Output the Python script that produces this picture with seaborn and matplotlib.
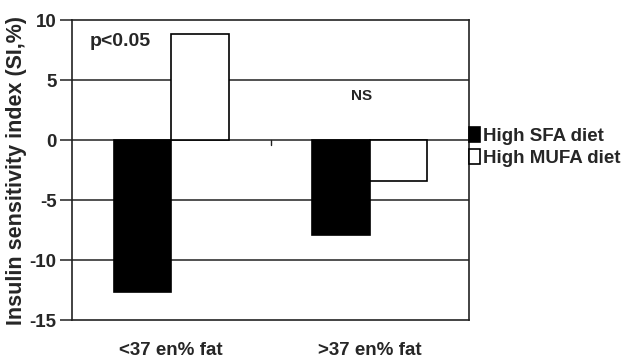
import matplotlib
matplotlib.use("Agg")
import matplotlib.pyplot as plt
import seaborn as sns
import pandas as pd

categories = ["<37 en% fat", ">37 en% fat"]
diets = ["High SFA diet", "High MUFA diet"]
sfa_values = [-12.7, -7.9]
mufa_values = [8.8, -3.4]
y_ticks = [10, 5, 0, -5, -10, -15]
annotations = ["p<0.05", "NS"]

df = pd.DataFrame({
    "group": categories * 2,
    "diet": [diets[0]] * 2 + [diets[1]] * 2,
    "value": sfa_values + mufa_values,
})

sns.set_theme(style="white")
plt.rcParams["font.family"] = ["Liberation Sans", "DejaVu Sans"]
plt.rcParams["font.weight"] = "bold"

fig = plt.figure(figsize=(6.25, 3.6), dpi=100)
ax = fig.add_axes([0.1152, 0.111, 0.6352, 0.8333])

sns.barplot(data=df, x="group", y="value", hue="diet", order=categories,
            hue_order=diets, palette=["black", "white"], edgecolor="black",
            linewidth=1.2, width=0.58, ax=ax, zorder=3)

for y in [5, 0, -5, -10]:
    ax.axhline(y, color="#222222", lw=1.1, zorder=1)

ax.set_ylim(-15, 10)
ax.set_xlim(-0.5, 1.5)
ax.set_yticks(y_ticks)
ax.set_yticklabels([str(t) for t in y_ticks], fontsize=13.5, fontweight="bold")
ax.tick_params(axis="y", which="both", left=True, length=9, width=1.1,
               color="#222222", pad=2)
ax.tick_params(axis="x", bottom=False, labelsize=13.5, pad=10)
for lbl in ax.get_xticklabels():
    lbl.set_fontweight("bold")
ax.set_xlabel("")
ax.set_ylabel("Insulin sensitivity index (SI,%)", fontsize=15.5,
              fontweight="bold", labelpad=2)

for s in ax.spines.values():
    s.set_color("#222222")
    s.set_linewidth(1.2)
    s.set_visible(True)

ax.plot([0.5, 0.5], [0, -0.4], color="#222222", lw=1, zorder=2)

ax.text(-0.41, 8.2, annotations[0], fontsize=14, fontweight="bold",
        va="center", ha="left")
ax.text(0.96, 3.7, annotations[1], fontsize=11, fontweight="bold",
        va="center", ha="center")

leg = ax.legend(loc="upper left", bbox_to_anchor=(1.0, 0.645), frameon=False,
                handlelength=0.6, handleheight=0.85, handletextpad=0.15,
                borderaxespad=0, labelspacing=0.25, borderpad=0,
                prop={"size": 13.5, "weight": "bold"})

fig.savefig("out.png", dpi=100)
